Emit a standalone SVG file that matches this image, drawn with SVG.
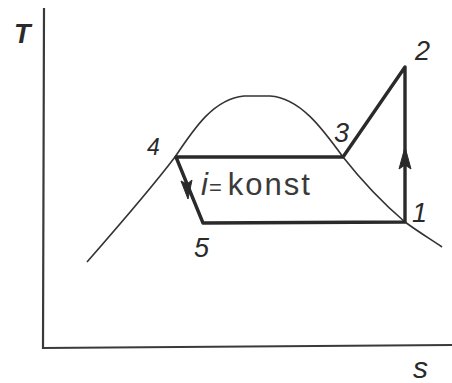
<svg xmlns="http://www.w3.org/2000/svg" width="452" height="383" viewBox="0 0 452 383">
<style>
.ax{fill:none;stroke:#3a3a3a;stroke-width:2.2}
.thin{fill:none;stroke:#333;stroke-width:1.6;stroke-linejoin:round}
.cyc{fill:none;stroke:#2a2a2a;stroke-width:3.4;stroke-linejoin:round}
.lbl{font-family:"Liberation Sans",Arial,sans-serif;font-style:italic;font-size:27px;fill:#2a2a2a}
.txt{font-family:"Liberation Sans",Arial,sans-serif;font-size:31px;fill:#3a3a3a}
.ah{fill:#2a2a2a;stroke:#2a2a2a;stroke-width:1}
</style>
<rect width="452" height="383" fill="#fff"/>
<g id="axes">
<path class="ax" d="M44,8 L43,348 L452,345"/>
<text class="lbl" x="14" y="43" style="font-weight:bold">T</text>
<text class="lbl" x="413" y="378" style="font-size:30px">s</text>
</g>
<g id="dome">
<path class="thin" d="M87,262 C115,230 150,190 175,157 C195,127 214,99 244,96 L270,96 C300,98 322,128 343,157 C365,185 385,205 405,222 C420,233 432,240 442,247"/>
</g>
<g id="connectors">
<path class="cyc" d="M176,157 L343,157 L405,67 L405,222 L203,223 Z"/>
<path class="ah" d="M188,199 L181,181 L187,184 L192,180 Z"/>
<path class="ah" d="M405,147 L399,169 L405,165 L411,169 Z"/>
</g>
<g id="p1"><text class="lbl" x="412" y="222">1</text></g>
<g id="p2"><text class="lbl" x="415" y="60">2</text></g>
<g id="p3"><text class="lbl" x="334" y="142">3</text></g>
<g id="p4"><text class="lbl" x="147" y="155" style="font-size:23px">4</text></g>
<g id="p5"><text class="lbl" x="194" y="257">5</text></g>
<g id="label"><text class="txt" x="201" y="195"><tspan font-style="italic">i</tspan><tspan font-size="22" dx="1">=</tspan><tspan dx="6" letter-spacing="2">konst</tspan></text></g>
</svg>
